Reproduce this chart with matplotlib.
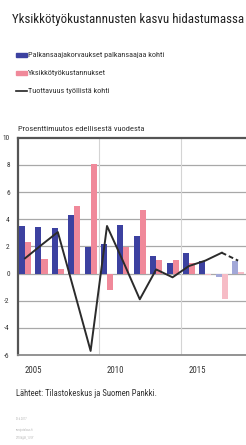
import matplotlib
matplotlib.use("Agg")
import matplotlib.pyplot as plt
from matplotlib.patches import Rectangle
from matplotlib.lines import Line2D
from matplotlib import font_manager
from matplotlib.font_manager import FontProperties

# ---- data ----
years = [2005, 2006, 2007, 2008, 2009, 2010, 2011, 2012, 2013, 2014, 2015, 2016, 2017, 2018]
compensation = [3.5, 3.45, 3.37, 4.3, 1.93, 2.17, 3.57, 2.76, 1.29, 0.8, 1.53, 0.95, -0.25, 0.9]
ulc = [2.3, 1.1, 0.3, 5.0, 8.1, -1.2, 1.97, 4.67, 1.0, 1.0, 0.8, -0.08, -1.85, 0.1]
productivity = [1.12, 2.1, 3.05, -1.3, -5.7, 3.5, 0.85, -1.9, 0.3, -0.28, 0.55, 0.95, 1.53, 0.95]
forecast_from = 2017
xtick_years = [2005, 2010, 2015]
yticks = [-6, -4, -2, 0, 2, 4, 6, 8, 10]
legend_labels = ["Palkansaajakorvaukset palkansaajaa kohti",
                 "Yksikkötyökustannukset",
                 "Tuottavuus työllistä kohti"]
title = "Yksikkötyökustannusten kasvu hidastumassa"
subtitle = "Prosenttimuutos edellisestä vuodesta"
source = "Lähteet: Tilastokeskus ja Suomen Pankki."
footer = ["13.6.2017", "eurojatalous.fi", "27106@K_1.IVY"]

# ---- pick a narrow font if one exists ----
def pick_font():
    fl = font_manager.fontManager.ttflist
    def ok(f):
        return f.style == "normal" and f.weight in (400, "normal", "regular")
    prefs = [lambda f: f.name == "Liberation Sans Narrow",
             lambda f: f.name == "Roboto Condensed",
             lambda f: "Condensed" in f.name and "Sans" in f.name,
             lambda f: f.name == "DejaVu Sans" and f.stretch == "condensed",
             lambda f: "Narrow" in f.name or "Condensed" in f.name,
             lambda f: f.name == "Liberation Sans"]
    for p in prefs:
        c = [f for f in fl if p(f) and ok(f)]
        if c:
            return c[0].fname
    return None

fname = pick_font()

def fp(size):
    if fname:
        return FontProperties(fname=fname, size=size)
    return FontProperties(family="DejaVu Sans", size=size)

W, H = 246, 445
fig = plt.figure(figsize=(W / 100, H / 100), dpi=100)
renderer = fig.canvas.get_renderer()

def fy(py):
    return 1 - py / H

def fx(px):
    return px / W

def fit_text(x, y, s, target_w, color="#333333", start=8.0, **kw):
    t = fig.text(fx(x), fy(y), s, fontproperties=fp(start), va="center", ha="left",
                 color=color, **kw)
    w = t.get_window_extent(renderer).width
    t.set_fontproperties(fp(start * target_w / w))
    return t

def fitted_size(s, target_w, start=8.0):
    t = fig.text(0, 0, s, fontproperties=fp(start))
    w = t.get_window_extent(renderer).width
    t.remove()
    return start * target_w / w

BLUE = "#3c41a0"
PINK = "#f0899a"
LBLUE = "#a2a8d8"
LPINK = "#f6bcc6"

ax = fig.add_axes([fx(18), fy(355), 1 - fx(18), fy(137.7) - fy(355)])

bw = 0.37
bcol = [BLUE if y < forecast_from else LBLUE for y in years]
pcol = [PINK if y < 2016 else LPINK for y in years]
ax.bar([y - bw / 2 for y in years], compensation, width=bw, color=bcol, zorder=3)
ax.bar([y + bw / 2 for y in years], ulc, width=bw, color=pcol, zorder=3)

n_solid = len([y for y in years if y <= forecast_from])
ax.plot(years[:n_solid], productivity[:n_solid], color="#2b2b2b", lw=1.4, zorder=4)
ax.plot(years[n_solid - 1:], productivity[n_solid - 1:], color="#2b2b2b", lw=1.4,
        ls=(0, (2.5, 1.5)), zorder=4)

ax.set_xlim(2004.57, 2018.48)
ax.set_ylim(-6, 10)
ax.set_yticks(yticks)
ax.set_yticklabels([str(v) for v in yticks], fontproperties=fp(5.3), color="#333333")
ax.set_xticks([y + 0.5 for y in xtick_years])
xsz = fitted_size("2005", 17.5)
ax.set_xticklabels([str(y) for y in xtick_years], fontproperties=fp(xsz), color="#333333")
ax.tick_params(axis="both", length=0)
ax.tick_params(axis="y", pad=6)
ax.tick_params(axis="x", pad=8)

for v in yticks[1:-1]:
    ax.axhline(v, color="#a8a8a8", lw=0.9, zorder=1)
for xv in [2009.5, 2014.5]:
    ax.axvline(xv, color="#d4d4d4", lw=0.8, zorder=1)

ax.spines["right"].set_visible(False)
ax.spines["top"].set_color("#555555")
ax.spines["top"].set_linewidth(1.6)
ax.spines["left"].set_color("#555555")
ax.spines["left"].set_linewidth(1.6)
ax.spines["bottom"].set_color("#8a8a8a")
ax.spines["bottom"].set_linewidth(1.3)

# title
fit_text(12, 19, title, 232, color="#222222")

# legend
rows = [55, 73, 91]
fig.add_artist(Rectangle((fx(16), fy(57)), fx(11), fy(53) - fy(57), color=BLUE,
                         transform=fig.transFigure))
fig.add_artist(Rectangle((fx(16), fy(75)), fx(11), fy(71) - fy(75), color=PINK,
                         transform=fig.transFigure))
fig.add_artist(Line2D([fx(16), fx(27)], [fy(91), fy(91)], color="#222222", lw=1.2,
                      transform=fig.transFigure))
lsz = fitted_size(legend_labels[0], 139)
for r, lab in zip(rows, legend_labels):
    fig.text(fx(27.5), fy(r), lab, fontproperties=fp(lsz), va="center", ha="left",
             color="#333333")

fit_text(18, 129, subtitle, 127)
fit_text(16, 393, source, 142)

fsz = fitted_size(footer[0], 12)
for yy, t in zip([419, 430, 438], footer):
    fig.text(fx(16), fy(yy), t, fontproperties=fp(fsz), va="center", ha="left",
             color="#b8b8b8")

fig.savefig("out.png", dpi=100)
